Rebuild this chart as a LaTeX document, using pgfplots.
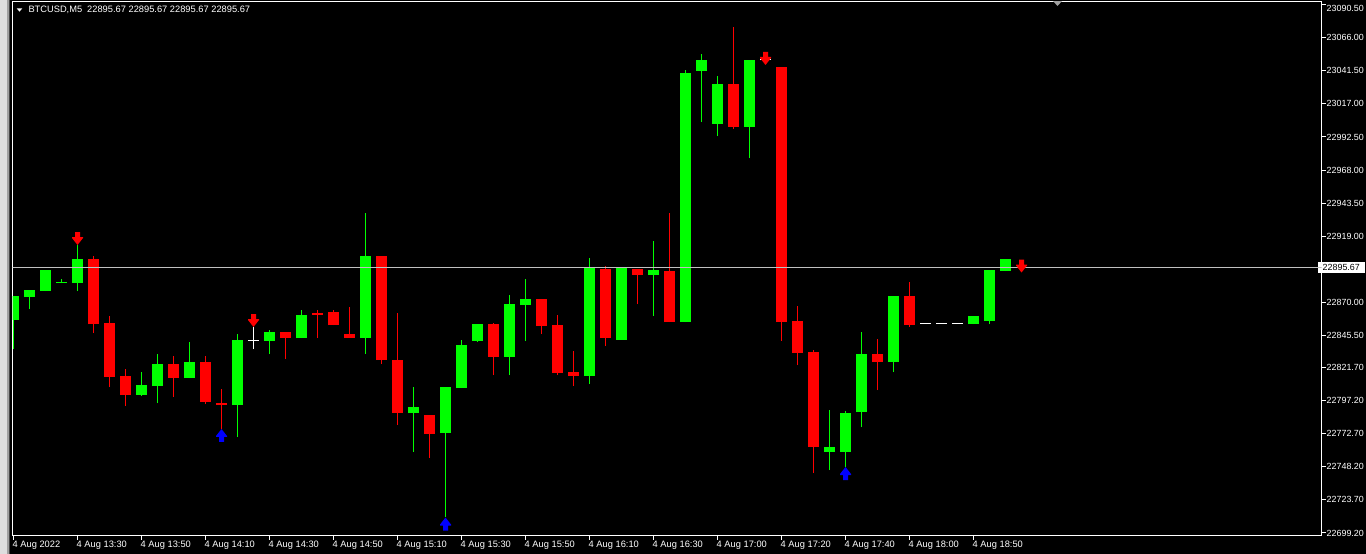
\documentclass[border=0pt]{standalone}
\usepackage{pgfplots}
\usepackage{pgfplotstable}
\pgfplotsset{compat=1.18}
\usepackage{fontspec}
\setmainfont{Liberation Sans}
\definecolor{mtgreen}{RGB}{0,255,0}
\definecolor{mtred}{RGB}{255,0,0}
\definecolor{mtblue}{RGB}{0,0,255}
\definecolor{bidgray}{RGB}{192,192,192}
\definecolor{frame1}{RGB}{222,222,222}
\definecolor{frame2}{RGB}{160,160,160}
\definecolor{frame3}{RGB}{70,70,70}

\pgfdeclareplotmark{dnarrow}{%
  \pgfpathmoveto{\pgfpoint{-2.5pt}{6.5pt}}%
  \pgfpathlineto{\pgfpoint{2.5pt}{6.5pt}}%
  \pgfpathlineto{\pgfpoint{2.5pt}{1.5pt}}%
  \pgfpathlineto{\pgfpoint{5.5pt}{1.5pt}}%
  \pgfpathlineto{\pgfpoint{5.5pt}{0.5pt}}%
  \pgfpathlineto{\pgfpoint{0pt}{-6.5pt}}%
  \pgfpathlineto{\pgfpoint{-5.5pt}{0.5pt}}%
  \pgfpathlineto{\pgfpoint{-5.5pt}{1.5pt}}%
  \pgfpathlineto{\pgfpoint{-2.5pt}{1.5pt}}%
  \pgfpathclose
  \pgfusepathqfill}
\pgfdeclareplotmark{uparrow}{%
  \pgfpathmoveto{\pgfpoint{-2.5pt}{-6.5pt}}%
  \pgfpathlineto{\pgfpoint{2.5pt}{-6.5pt}}%
  \pgfpathlineto{\pgfpoint{2.5pt}{-1.5pt}}%
  \pgfpathlineto{\pgfpoint{5.5pt}{-1.5pt}}%
  \pgfpathlineto{\pgfpoint{5.5pt}{-0.5pt}}%
  \pgfpathlineto{\pgfpoint{0pt}{6.5pt}}%
  \pgfpathlineto{\pgfpoint{-5.5pt}{-0.5pt}}%
  \pgfpathlineto{\pgfpoint{-5.5pt}{-1.5pt}}%
  \pgfpathlineto{\pgfpoint{-2.5pt}{-1.5pt}}%
  \pgfpathclose
  \pgfusepathqfill}

% columns: bar index, body low, body high, wick low, wick high
\pgfplotstableread{
x bl bh wl wh
0 22856.94 22874.72 22835.46 22874.72
1 22873.98 22879.17 22865.09 22879.17
2 22878.42 22893.98 22878.42 22893.98
3 22884.35 22885.09 22884.35 22887.31
4 22884.35 22902.13 22878.42 22912.50
8 22801.39 22808.79 22800.65 22818.42
9 22808.05 22824.35 22795.46 22831.76
11 22813.98 22825.83 22813.98 22840.65
14 22793.98 22842.13 22770.28 22846.57
16 22841.39 22848.05 22831.76 22849.54
18 22843.61 22860.65 22843.61 22864.35
22 22843.61 22904.35 22831.76 22936.20
25 22788.05 22792.50 22759.17 22807.31
27 22773.24 22807.31 22711.02 22807.31
28 22806.57 22838.42 22806.57 22842.13
29 22841.39 22853.98 22840.65 22853.98
31 22829.54 22868.79 22816.20 22875.46
32 22868.05 22872.50 22841.39 22887.31
36 22815.46 22896.20 22809.54 22902.87
38 22842.13 22895.46 22842.13 22895.46
40 22890.28 22893.98 22859.91 22915.46
42 22855.46 23039.91 22855.46 23042.13
43 23041.39 23049.54 23003.61 23053.98
44 23002.13 23031.76 22993.24 23037.68
46 22999.91 23049.54 22976.94 23049.54
51 22759.17 22762.87 22745.83 22790.28
52 22759.17 22788.05 22748.05 22789.54
53 22788.79 22831.76 22777.68 22848.05
55 22825.83 22874.72 22818.42 22874.72
60 22853.98 22859.91 22853.98 22859.91
61 22856.20 22893.98 22853.98 22893.98
62 22893.24 22902.13 22893.24 22902.13
}\greentable

\pgfplotstableread{
x bl bh wl wh
5 22853.98 22902.13 22847.31 22904.35
6 22814.72 22854.72 22807.31 22859.91
7 22801.39 22815.46 22793.24 22820.65
10 22813.98 22824.35 22799.91 22830.28
12 22796.20 22825.83 22794.72 22830.28
13 22793.98 22795.46 22776.20 22805.83
17 22843.61 22848.05 22828.05 22848.05
19 22860.65 22862.13 22843.61 22864.35
20 22853.24 22862.87 22853.24 22864.35
21 22843.61 22846.57 22843.61 22866.57
23 22827.31 22904.35 22824.35 22904.35
24 22788.05 22827.31 22779.17 22862.13
26 22772.50 22786.57 22754.72 22786.57
30 22829.54 22853.98 22816.20 22854.72
33 22852.50 22872.50 22846.57 22872.50
34 22817.68 22853.24 22816.20 22860.65
35 22815.46 22818.42 22808.05 22833.98
37 22843.61 22894.72 22837.68 22896.94
39 22890.28 22894.72 22868.79 22894.72
41 22855.46 22893.24 22855.46 22936.20
45 22999.91 23031.76 22998.42 23073.98
48 22855.46 23044.35 22841.39 23044.35
49 22832.50 22856.20 22823.61 22867.31
50 22762.87 22833.24 22743.61 22834.72
54 22825.83 22831.76 22805.09 22842.87
56 22853.24 22874.72 22851.76 22885.09
}\redtable

\pgfplotstableread{
x bl bh wl wh
15 22841.76 22842.50 22835.46 22851.76
47 23049.20 23049.94 23049.20 23049.94
57 22854.35 22855.09 22854.35 22855.09
58 22854.35 22855.09 22854.35 22855.09
59 22854.35 22855.09 22854.35 22855.09
63 22895.30 22896.04 22895.30 22896.04
}\whitetable

\begin{document}
\begin{tikzpicture}[x=1pt,y=1pt]
\useasboundingbox (0,0) rectangle (1366,-554);
\fill[black] (0,0) rectangle (1366,-554);
\fill[frame1] (0,0) rectangle (7,-554);
\fill[frame2] (7,0) rectangle (8.5,-554);
\fill[frame3] (8.5,0) rectangle (10,-554);
\begin{axis}[
  at={(12.5pt,-1.5pt)}, anchor=north west,
  width=1309pt, height=534pt, scale only axis,
  xmin=-0.0625, xmax=81.75,
  ymin=22697.31, ymax=23092.87,
  axis line style={white, line width=1pt},
  tick style={white, line width=1pt},
  major tick length=4pt,
  tick align=outside,
  xtick pos=lower, ytick pos=right, yticklabel pos=right,
  ticklabel style={font=\fontsize{9.3}{11}\selectfont, text=white, inner sep=0pt},
  xtick={0,4,...,60},
  xticklabels={4 Aug 2022,4 Aug 13:30,4 Aug 13:50,4 Aug 14:10,4 Aug 14:30,4 Aug 14:50,4 Aug 15:10,4 Aug 15:30,4 Aug 15:50,4 Aug 16:10,4 Aug 16:30,4 Aug 17:00,4 Aug 17:20,4 Aug 17:40,4 Aug 18:00,4 Aug 18:50},
  xticklabel style={anchor=north west, xshift=-1pt, yshift=-1pt},
  ytick={23090.50,23066.00,23041.50,23017.00,22992.50,22968.00,22943.50,22919.00,22870.00,22845.50,22821.70,22797.20,22772.70,22748.20,22723.70,22699.20},
  yticklabels={\smash{\raisebox{-6.5pt}{23090.50}},23066.00,23041.50,23017.00,22992.50,22968.00,22943.50,22919.00,22870.00,22845.50,22821.70,22797.20,22772.70,22748.20,22723.70,22699.20},
  yticklabel style={anchor=west, xshift=1pt, font=\fontsize{8.9}{11}\selectfont},
  extra y ticks={22895.67},
  extra y tick labels={22895.67},
  extra y tick style={major tick length=0pt, yticklabel style={fill=white, text=black, inner xsep=5pt, inner ysep=2.5pt, xshift=-5pt}},
  clip=true,
]
% wicks
\addplot[draw=none, mark=none, forget plot,
  error bars/.cd, y dir=plus, y explicit, error mark=none,
  error bar style={draw=mtgreen, line width=1pt}]
  table[x=x, y=wl, y error plus expr=\thisrow{wh}-\thisrow{wl}] {\greentable};
\addplot[draw=none, mark=none, forget plot,
  error bars/.cd, y dir=plus, y explicit, error mark=none,
  error bar style={draw=mtred, line width=1pt}]
  table[x=x, y=wl, y error plus expr=\thisrow{wh}-\thisrow{wl}] {\redtable};
\addplot[draw=none, mark=none, forget plot,
  error bars/.cd, y dir=plus, y explicit, error mark=none,
  error bar style={draw=white, line width=1pt}]
  table[x=x, y=wl, y error plus expr=\thisrow{wh}-\thisrow{wl}] {\whitetable};
% bodies
\addplot[draw=none, mark=none, forget plot,
  error bars/.cd, y dir=plus, y explicit, error mark=none,
  error bar style={draw=mtgreen, line width=11pt}]
  table[x=x, y=bl, y error plus expr=\thisrow{bh}-\thisrow{bl}] {\greentable};
\addplot[draw=none, mark=none, forget plot,
  error bars/.cd, y dir=plus, y explicit, error mark=none,
  error bar style={draw=mtred, line width=11pt}]
  table[x=x, y=bl, y error plus expr=\thisrow{bh}-\thisrow{bl}] {\redtable};
\addplot[draw=none, mark=none, forget plot,
  error bars/.cd, y dir=plus, y explicit, error mark=none,
  error bar style={draw=white, line width=11pt}]
  table[x=x, y=bl, y error plus expr=\thisrow{bh}-\thisrow{bl}] {\whitetable};
% bid line
\addplot[bidgray, line width=1pt, mark=none] coordinates {(-1,22895.67) (83,22895.67)};
% signal arrows
\addplot[only marks, mark=dnarrow, color=mtred] coordinates {(4,22917.31) (15,22856.57) (47,23050.65) (63,22896.94)};
\addplot[only marks, mark=uparrow, color=mtblue] coordinates {(13,22771.39) (27,22705.83) (52,22743.24)};
\end{axis}
\fill[frame2] (1053,-1) -- (1062,-1) -- (1057.5,-6) -- cycle;
\fill[white] (16.7,-8.3) -- (22.3,-8.3) -- (19.5,-11.7) -- cycle;
\node[anchor=base west, inner sep=0pt, text=white, font=\fontsize{9.3}{11}\selectfont] at (28.3,-12.7) {BTCUSD,M5\hspace{5pt}22895.67 22895.67 22895.67 22895.67};
\end{tikzpicture}
\end{document}
